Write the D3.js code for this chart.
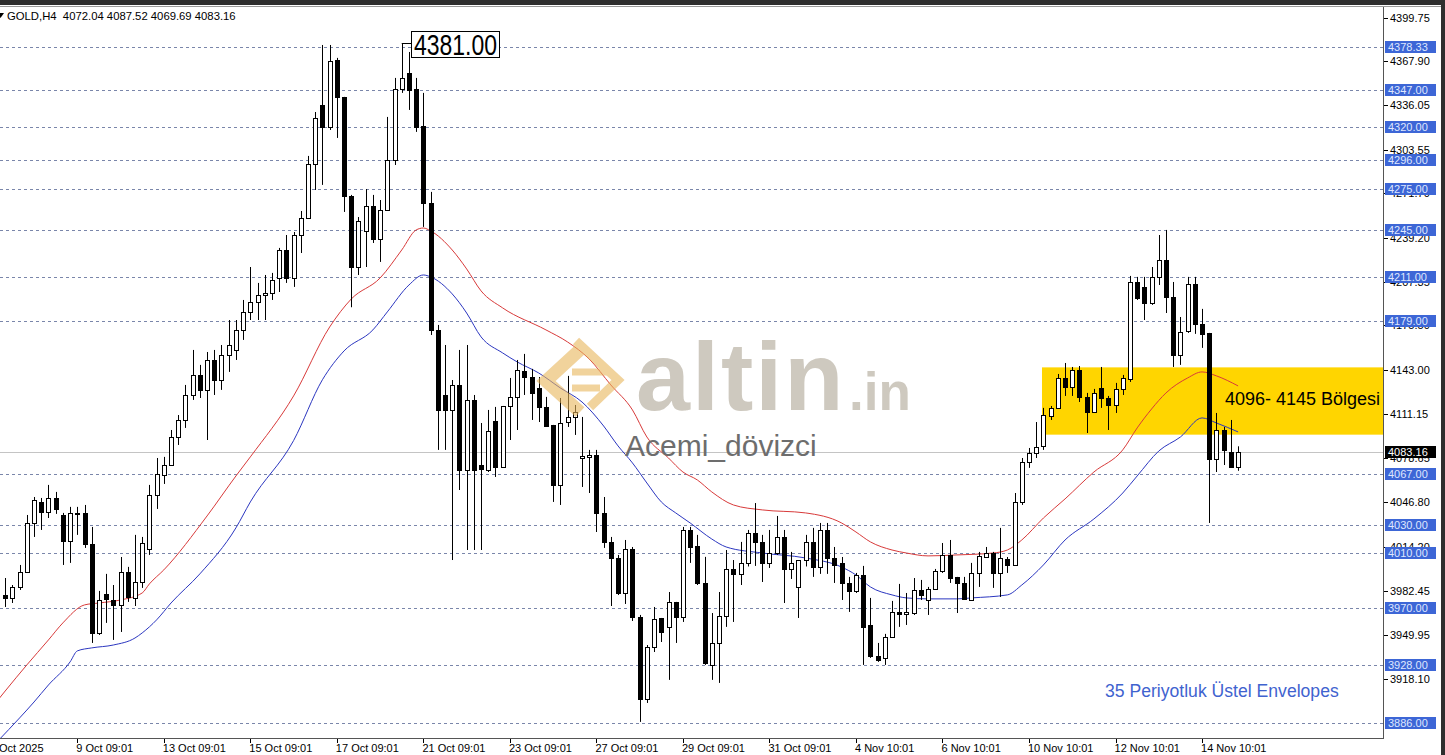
<!DOCTYPE html>
<html><head><meta charset="utf-8">
<script src="https://cdn.jsdelivr.net/npm/d3@7"></script>
<style>html,body{margin:0;padding:0;background:#fff;overflow:hidden}</style>
</head><body>
<script>
const opens=[3978.9,3977.5,3985.1,3996.0,4031.7,4047.0,4039.7,4049.9,4037.5,4018.6,4039.0,4039.0,4016.4,3951.6,3980.0,3975.6,3972.0,3996.0,3977.1,3988.7,4012.7,4052.1,4066.7,4073.9,4094.3,4106.7,4124.9,4139.5,4128.6,4150.4,4135.8,4154.1,4157.7,4172.3,4185.4,4192.6,4197.8,4199.2,4210.1,4230.5,4210.1,4241.4,4253.8,4293.2,4336.1,4320.1,4368.9,4342.0,4269.8,4218.1,4244.4,4262.6,4238.5,4259.7,4296.1,4347.8,4359.4,4347.8,4320.8,4264.8,4172.3,4124.9,4114.0,4132.2,4070.3,4121.3,4073.9,4070.3,4106.0,4072.5,4116.9,4123.5,4142.4,4138.0,4130.0,4116.2,4103.1,4059.4,4105.2,4108.9,4079.0,4079.7,4081.2,4039.0,4017.9,4006.2,3980.7,4012.7,3963.2,3903.5,3941.4,3962.5,3955.9,3974.2,3963.2,4026.6,4014.9,3988.0,3928.3,3944.3,3964.0,3998.2,3994.6,4002.6,4024.4,4017.9,4002.6,4009.8,4021.5,3998.2,3985.1,4004.7,4017.9,3999.6,4026.6,4006.2,4002.6,3988.0,3982.2,3993.8,3957.4,3934.8,3933.4,3948.7,3966.9,3965.4,3966.1,3982.9,3975.6,3983.6,3996.7,4008.4,3992.4,3988.0,3975.6,3995.3,4006.9,4009.8,3995.3,4005.5,4001.1,4047.0,4076.1,4082.7,4087.8,4109.6,4115.5,4137.3,4130.8,4143.1,4123.5,4112.5,4130.0,4122.7,4117.6,4129.3,4136.6,4207.2,4203.6,4191.9,4210.9,4223.2,4196.3,4154.1,4171.5,4205.8,4176.6,4170.1,4078.3,4099.4,4083.4,4072.04];
const highs=[3991.6,3986.5,4001.1,4037.5,4050.6,4049.9,4059.4,4054.3,4039.0,4043.4,4043.4,4044.8,4028.8,3982.2,3994.6,3986.5,4006.9,3999.7,4023.0,4021.5,4059.4,4079.0,4079.8,4099.4,4110.3,4132.2,4157.7,4146.8,4156.2,4157.7,4161.3,4179.5,4179.5,4194.1,4218.1,4206.5,4212.3,4213.8,4232.0,4241.4,4243.6,4258.9,4299.0,4331.0,4379.8,4379.8,4370.4,4342.0,4270.6,4254.5,4274.9,4270.6,4266.9,4327.4,4355.8,4381.0,4374.7,4355.8,4344.9,4272.8,4175.9,4161.3,4135.8,4157.7,4161.3,4124.9,4104.5,4114.0,4116.2,4116.9,4137.3,4150.4,4154.8,4143.9,4138.0,4123.5,4103.1,4122.7,4138.8,4117.6,4108.9,4084.9,4084.9,4050.6,4021.5,4008.4,4019.3,4014.2,3964.7,3942.8,3970.5,3962.5,3981.4,3974.2,4028.8,4028.8,4023.0,4007.0,3966.1,3981.4,4012.0,4004.7,4017.9,4026.6,4046.2,4023.0,4026.6,4036.8,4026.6,4010.6,4004.7,4023.0,4028.1,4031.7,4031.7,4014.2,4006.9,3992.4,3995.3,4000.4,3977.1,3944.3,3950.9,3974.9,3987.3,3980.7,3991.6,3990.2,3985.1,3998.2,4017.1,4019.3,3992.4,3992.4,4002.6,4010.6,4014.2,4010.6,4028.1,4006.9,4053.5,4079.0,4086.3,4105.2,4115.5,4116.9,4140.2,4148.2,4145.3,4146.0,4126.4,4129.3,4145.3,4124.2,4133.7,4139.5,4211.6,4210.9,4210.9,4218.1,4241.4,4245.1,4207.2,4181.7,4210.9,4210.9,4187.6,4170.1,4111.8,4101.6,4106.7,4087.52];
const lows=[3970.5,3973.4,3982.9,3995.3,4021.5,4026.6,4035.3,4038.3,4001.1,4002.6,4023.0,4013.5,3944.3,3950.1,3958.9,3946.5,3952.3,3974.2,3971.2,3984.4,4008.4,4041.9,4060.1,4073.2,4088.5,4100.9,4121.3,4122.7,4092.1,4124.9,4128.6,4141.7,4150.4,4165.0,4179.5,4179.5,4179.5,4194.1,4199.9,4206.5,4203.6,4228.3,4253.8,4274.2,4277.9,4317.9,4312.1,4258.2,4188.8,4212.3,4218.1,4235.6,4221.8,4259.7,4292.4,4344.9,4332.5,4316.5,4247.3,4168.6,4084.9,4084.9,4004.7,4055.7,4012.0,4012.0,4012.0,4068.8,4065.2,4071.8,4092.1,4099.4,4124.9,4106.7,4105.2,4101.6,4047.0,4044.8,4101.6,4095.8,4057.9,4053.5,4025.1,4013.5,3971.2,3979.2,3972.7,3960.3,3886.8,3900.6,3937.7,3945.0,3917.4,3944.3,3959.6,4002.6,3986.5,3928.3,3917.4,3915.2,3956.0,3959.6,3986.5,4000.0,4000.4,3988.7,3998.9,4008.4,3973.4,3990.9,3962.5,4000.0,3992.4,3994.6,3994.6,3988.0,3975.6,3966.9,3980.7,3928.3,3933.4,3930.5,3928.3,3948.7,3956.0,3957.4,3964.7,3975.6,3964.7,3982.9,3995.3,3988.0,3966.1,3975.6,3974.9,3985.1,4006.2,3984.4,3977.8,3995.3,4000.4,4044.8,4071.8,4079.0,4084.9,4106.7,4115.5,4124.2,4124.2,4119.8,4097.2,4111.8,4115.5,4099.4,4111.8,4124.9,4134.4,4194.1,4179.5,4190.5,4205.0,4184.6,4145.3,4146.8,4170.1,4169.4,4159.2,4031.7,4068.8,4073.9,4071.8,4069.69];
const closes=[3976.7,3985.3,3996.0,4031.7,4048.4,4039.7,4049.9,4041.9,4018.6,4039.0,4038.6,4016.4,3951.6,3975.6,3976.4,3972.0,3996.0,3977.8,3988.7,4017.1,4052.1,4067.4,4073.9,4094.3,4106.7,4124.9,4139.5,4128.6,4150.4,4135.8,4154.1,4161.3,4172.3,4185.4,4192.6,4197.8,4199.2,4208.7,4230.5,4210.1,4241.4,4253.8,4293.2,4326.7,4320.1,4368.2,4342.0,4269.8,4218.1,4251.6,4262.6,4238.5,4259.7,4296.1,4347.8,4355.8,4347.1,4320.1,4264.8,4172.3,4114.0,4114.0,4132.2,4070.3,4121.3,4070.3,4071.0,4098.7,4072.5,4116.9,4123.5,4143.1,4138.0,4126.4,4116.2,4102.3,4059.4,4104.5,4108.9,4112.5,4080.5,4081.2,4039.0,4017.9,4006.2,3980.7,4012.7,3963.2,3903.5,3941.4,3961.8,3952.3,3974.2,3963.2,4026.6,4014.2,3988.0,3929.7,3944.3,3964.0,3998.2,3994.6,4002.6,4024.4,4017.9,4002.6,4009.8,4021.5,3998.2,4002.6,4004.7,4017.9,3999.6,4026.6,4006.2,4001.1,3988.0,3982.2,3993.8,3956.0,3934.8,3931.9,3948.7,3966.9,3965.4,3966.9,3982.9,3979.2,3983.6,3996.7,4008.4,3991.6,3988.0,3976.4,3995.3,4007.7,4009.8,3995.3,4006.2,4001.1,4047.0,4076.1,4082.7,4087.0,4110.3,4115.5,4137.3,4130.8,4143.1,4123.5,4112.5,4126.4,4122.7,4117.6,4129.3,4137.3,4207.2,4195.6,4191.9,4210.9,4223.2,4196.3,4154.1,4170.8,4205.8,4176.6,4169.4,4078.3,4099.4,4084.9,4072.5,4083.16];

const upperIdx=[-1,0,3,6,8,11,13,16,19,20,22,28,32,34,40,45,48,52,55,57,58,59,62,64,66,69,75,78,81,84,87,89,92,94,96,98,101,105,111,116,118,120,123,125,128,132,137,139,141,144,147,151,155,157,159,161,164,166,168,171];
const upperVal=[3902.8,3909.3,3928.3,3946.5,3958.9,3972.0,3973.4,3975.6,3980.7,3987.3,3997.5,4036.8,4065.9,4079.8,4124.2,4174.4,4194.8,4210.1,4230.5,4245.1,4246.5,4244.4,4230.5,4216.7,4200.7,4188.3,4172.3,4163.5,4151.1,4132.2,4114.0,4094.3,4079.0,4068.8,4063.0,4054.3,4044.8,4041.2,4039.0,4031.7,4025.1,4017.9,4012.0,4009.8,4007.7,4008.4,4009.8,4012.0,4019.3,4035.3,4049.2,4068.8,4084.9,4100.9,4114.7,4126.4,4137.3,4141.7,4138.8,4131.5];
const lowerIdx=[-1,2,4,6,9,10,12,15,18,19,21,23,27,32,34,40,44,47,51,53,56,58,59,62,64,66,69,71,74,77,80,83,85,87,89,91,93,95,98,100,105,111,116,118,120,123,125,128,132,134,139,141,144,147,151,155,157,160,163,166,168,171];
const lowerVal=[3873.0,3889.7,3901.3,3913.7,3930.5,3938.5,3940.7,3942.8,3947.9,3951.6,3961.1,3973.4,3994.6,4028.1,4047.0,4091.7,4136.0,4157.0,4172.3,4185.4,4205.0,4212.3,4210.9,4198.5,4184.6,4167.2,4155.5,4149.0,4140.9,4130.0,4119.8,4102.3,4087.8,4075.4,4060.8,4047.0,4039.0,4031.7,4020.0,4014.2,4009.8,4006.2,3999.6,3993.8,3985.1,3979.3,3977.1,3976.4,3976.4,3977.1,3979.3,3986.5,4001.1,4019.3,4034.6,4053.5,4065.9,4084.1,4094.3,4108.2,4104.5,4098.0];

const axisTicks=[4399.75,4367.90,4336.05,4303.55,4271.70,4239.20,4207.35,4175.50,4143.00,4111.15,4078.65,4046.80,4014.20,3982.45,3949.95,3918.10];
const levelLines=[4378.33,4347.00,4320.00,4296.00,4275.00,4245.00,4211.00,4179.00,4067.00,4030.00,4010.00,3970.00,3928.00,3886.00];
const lastPrice=4083.16;
const tickBars=[-2,10,22,34,46,58,70,82,94,106,118,130,142,154,166];
const tickLabels=["8 Oct 2025","9 Oct 09:01","13 Oct 09:01","15 Oct 09:01","17 Oct 09:01","21 Oct 09:01","23 Oct 09:01","27 Oct 09:01","29 Oct 09:01","31 Oct 09:01","4 Nov 10:01","6 Nov 10:01","10 Nov 10:01","12 Nov 10:01","14 Nov 10:01"];
const zoneLow=4096, zoneHigh=4145, zoneStartBar=143.8;
const peakBar=55, peakValue=4381.00;
const headerText="GOLD,H4  4072.04 4087.52 4069.69 4083.16";

const W=1445,H=755;
const pL=0,pR=1383,pT=7,pB=738;
const FONT="'Liberation Sans', Arial, sans-serif";
const x=d3.scaleLinear().domain([0,171]).range([5.2,1238.1]);
const y=d3.scaleLinear().domain([3886,4378.33]).range([723,47]);

const svg=d3.select("body").append("svg").attr("width",W).attr("height",H).style("display","block");
svg.append("rect").attr("width",W).attr("height",H).attr("fill","#fff");
svg.append("defs").append("clipPath").attr("id","clip").append("rect").attr("x",pL).attr("y",pT).attr("width",pR-pL).attr("height",pB-pT);
const g=svg.append("g").attr("clip-path","url(#clip)");

// yellow zone
g.append("rect").attr("x",x(zoneStartBar)).attr("y",y(zoneHigh)).attr("width",pR-x(zoneStartBar)).attr("height",y(zoneLow)-y(zoneHigh)).attr("fill","#ffd500");

// level lines
g.selectAll(".lvl").data(levelLines).join("line").attr("x1",pL).attr("x2",pR)
 .attr("y1",d=>Math.round(y(d))+0.5).attr("y2",d=>Math.round(y(d))+0.5)
 .attr("stroke","#7a86aa").attr("stroke-width",1).attr("stroke-dasharray","3,3");
// bid line
g.append("line").attr("x1",pL).attr("x2",pR).attr("y1",Math.round(y(lastPrice))+0.5).attr("y2",Math.round(y(lastPrice))+0.5).attr("stroke","#c4c4c4");

// watermark text
g.append("text").attr("x",636).attr("y",410).attr("font-family",FONT).attr("font-weight","bold").attr("font-size",97).attr("fill","#cec9bf").attr("letter-spacing",2).text("altin");
g.append("text").attr("x",849).attr("y",410).attr("font-family",FONT).attr("font-weight","bold").attr("font-size",53).attr("fill","#cec9bf").text(".in");

// envelopes
const line=d3.line().x(d=>x(d[0])).y(d=>y(d[1])).curve(d3.curveMonotoneX);
g.append("path").attr("d",line(upperIdx.map((d,i)=>[d,upperVal[i]]))).attr("fill","none").attr("stroke","#d83a3a").attr("stroke-width",1);
g.append("path").attr("d",line(lowerIdx.map((d,i)=>[d,lowerVal[i]]))).attr("fill","none").attr("stroke","#2b36c0").attr("stroke-width",1);

// candles
const bars=d3.range(opens.length);
const cg=g.append("g");
cg.selectAll(".wick").data(bars).join("line")
 .attr("x1",i=>Math.round(x(i))+0.5).attr("x2",i=>Math.round(x(i))+0.5)
 .attr("y1",i=>y(highs[i])).attr("y2",i=>y(lows[i])).attr("stroke","#000").attr("stroke-width",1);
cg.selectAll(".body").data(bars).join("rect")
 .attr("x",i=>Math.round(x(i))-2+0.5).attr("width",4)
 .attr("y",i=>Math.round(y(Math.max(opens[i],closes[i])))+0.5)
 .attr("height",i=>Math.max(0.01,Math.round(Math.abs(y(opens[i])-y(closes[i])))))
 .attr("fill",i=>closes[i]>=opens[i]?"#fff":"#000").attr("stroke","#000").attr("stroke-width",1);

// logo (semi transparent)
const logo=g.append("g").attr("opacity",0.6).attr("stroke","#e8b65c").attr("fill","none").attr("stroke-linecap","butt");
logo.append("polyline").attr("points","584,346 546,381 580,412").attr("stroke-width",13);
logo.append("polyline").attr("points","576,341 618,380 590,407").attr("stroke-width",9);
logo.append("line").attr("x1",572).attr("y1",372).attr("x2",607).attr("y2",372).attr("stroke-width",7);
logo.append("line").attr("x1",572).attr("y1",388).attr("x2",600).attr("y2",388).attr("stroke-width",7);

g.append("text").attr("x",625).attr("y",456).attr("font-family",FONT).attr("font-size",30).attr("fill","#6d6d6d").text("Acemi_dövizci");

// zone text
g.append("text").attr("x",1225).attr("y",405).attr("font-family",FONT).attr("font-size",18).attr("fill","#000").text(zoneLow+"- "+zoneHigh+" Bölgesi");
// indicator text
g.append("text").attr("x",1105).attr("y",697).attr("font-family",FONT).attr("font-size",17.6).attr("fill","#3f63cf").text("35 Periyotluk Üstel Envelopes");

// peak label
const py=Math.round(y(peakValue))+0.5;
g.append("line").attr("x1",x(peakBar)).attr("x2",411).attr("y1",py).attr("y2",py).attr("stroke","#000");
g.append("rect").attr("x",411.5).attr("y",31.5).attr("width",88).attr("height",26).attr("fill","#fff").attr("stroke","#000");
g.append("text").attr("x",414).attr("y",55).attr("font-family",FONT).attr("font-size",29).attr("textLength",83).attr("lengthAdjust","spacingAndGlyphs").attr("fill","#000").text(peakValue.toFixed(2));

// header
svg.append("rect").attr("x",0).attr("y",0).attr("width",W).attr("height",5).attr("fill","#2e2e2e");
svg.append("line").attr("x1",0).attr("x2",W).attr("y1",6.5).attr("y2",6.5).attr("stroke","#9a9a9a");
svg.append("path").attr("d","M-3,13 L4,13 L0.5,18 Z").attr("fill","#000");
svg.append("text").attr("x",7).attr("y",20).attr("font-family",FONT).attr("font-size",11.3).attr("fill","#000").attr("xml:space","preserve").style("white-space","pre").text(headerText);

// frame
svg.append("line").attr("x1",pR+0.5).attr("x2",pR+0.5).attr("y1",pT).attr("y2",pB+1).attr("stroke","#555");
svg.append("line").attr("x1",0).attr("x2",pR+1).attr("y1",pB+0.5).attr("y2",pB+0.5).attr("stroke","#555");
svg.append("rect").attr("x",1441).attr("y",0).attr("width",4).attr("height",H).attr("fill","#2e2e2e");

// right axis ticks (some sit partly under the level labels, as in the original)
const ax=svg.append("g");
ax.selectAll(".t").data(axisTicks).join("line").attr("x1",pR+1).attr("x2",pR+5)
 .attr("y1",d=>Math.round(y(d))+0.5).attr("y2",d=>Math.round(y(d))+0.5).attr("stroke","#000");
ax.selectAll(".tl").data(axisTicks).join("text").attr("x",1390).attr("y",d=>y(d)+4)
 .attr("font-family",FONT).attr("font-size",11).attr("fill","#000").text(d=>d.toFixed(2));
// level labels
const lv=ax.selectAll(".lv").data(levelLines).join("g").attr("transform",d=>`translate(0,${Math.round(y(d))})`);
lv.append("rect").attr("x",1385).attr("y",-6).attr("width",51).attr("height",12).attr("fill","#3d66d6");
lv.append("text").attr("x",1388).attr("y",4).attr("font-family",FONT).attr("font-size",11).attr("fill","#dfe6ff").text(d=>d.toFixed(2));
// last price label
const lp=ax.append("g").attr("transform",`translate(0,${Math.round(y(lastPrice))})`);
lp.append("rect").attr("x",1385).attr("y",-6).attr("width",51).attr("height",12).attr("fill","#000");
lp.append("text").attr("x",1388).attr("y",4).attr("font-family",FONT).attr("font-size",11).attr("fill","#fff").text(lastPrice.toFixed(2));

// time axis
const tx=svg.append("g");
tx.selectAll(".xt").data(tickBars).join("line").attr("x1",d=>Math.round(x(d))+0.5).attr("x2",d=>Math.round(x(d))+0.5)
 .attr("y1",pB+1).attr("y2",pB+5).attr("stroke","#000");
tx.selectAll(".xl").data(tickBars).join("text").attr("x",d=>x(d)-1).attr("y",752)
 .attr("font-family",FONT).attr("font-size",11).attr("fill","#000").text((d,i)=>tickLabels[i]);
</script>
</body></html>
